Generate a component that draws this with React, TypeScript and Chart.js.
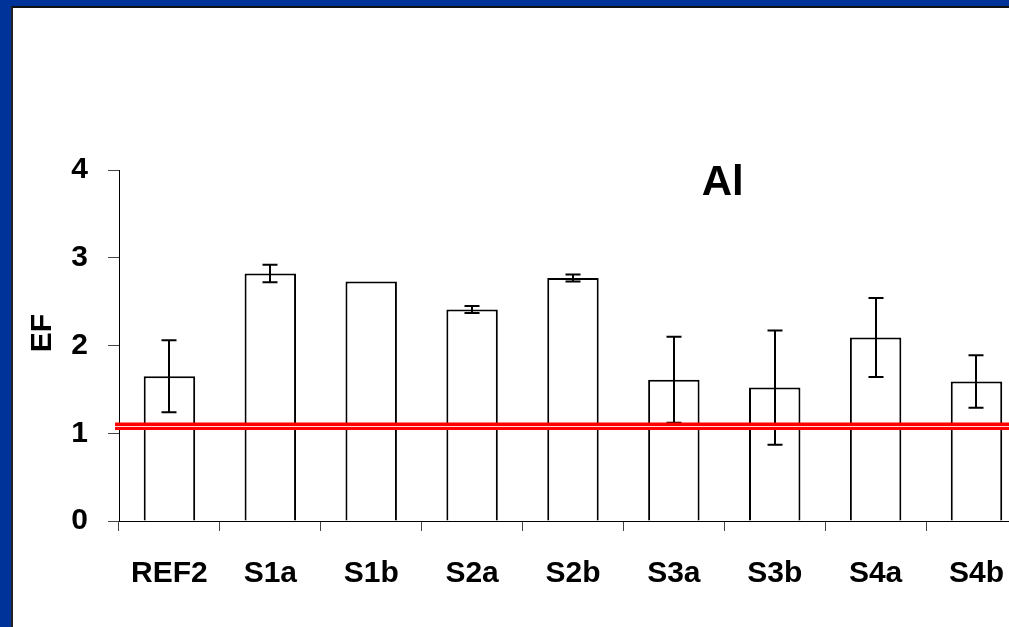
import React, { useEffect, useRef } from 'react';
import { Chart, registerables } from 'chart.js';

Chart.register(...registerables);

const categories = ['REF2', 'S1a', 'S1b', 'S2a', 'S2b', 'S3a', 'S3b', 'S4a', 'S4b'];
const efValues = [1.65, 2.82, 2.73, 2.41, 2.77, 1.61, 1.52, 2.09, 1.59];
const efErrors = [0.41, 0.1, 0, 0.04, 0.04, 0.49, 0.65, 0.45, 0.3];
const yTickValues = [0, 1, 2, 3, 4];
const referenceLevel = 1.08;
const chartTitle = 'Al';
const yAxisTitle = 'EF';

const FONT = "'Liberation Sans', Arial, sans-serif";

const errorBarPlugin = {
  id: 'errorBars',
  afterDatasetsDraw(chart: any) {
    const meta = chart.getDatasetMeta(0);
    const yScale = chart.scales.y;
    const ctx = chart.ctx;
    ctx.save();
    ctx.strokeStyle = '#000';
    ctx.lineWidth = 2;
    meta.data.forEach((bar: any, i: number) => {
      const e = efErrors[i];
      if (!e) return;
      const v = efValues[i];
      const x = Math.round(bar.x);
      const yTop = yScale.getPixelForValue(v + e);
      const yBot = yScale.getPixelForValue(v - e);
      const hw = 7.5;
      ctx.beginPath();
      ctx.moveTo(x, yTop);
      ctx.lineTo(x, yBot);
      ctx.moveTo(x - hw, yTop);
      ctx.lineTo(x + hw, yTop);
      ctx.moveTo(x - hw, yBot);
      ctx.lineTo(x + hw, yBot);
      ctx.stroke();
    });
    ctx.restore();
  },
};

const refLinePlugin = {
  id: 'refLine',
  afterDraw(chart: any) {
    const yScale = chart.scales.y;
    const ctx = chart.ctx;
    const y = Math.round(yScale.getPixelForValue(referenceLevel)) + 0.5;
    const x0 = chart.chartArea.left - 4;
    const x1 = chart.width;
    ctx.save();
    ctx.fillStyle = '#ff0000';
    ctx.fillRect(x0, y - 4, x1 - x0, 7.5);
    ctx.fillStyle = '#ffd8d8';
    ctx.fillRect(x0, y - 0.5, x1 - x0, 1);
    ctx.restore();
  },
};

const textPlugin = {
  id: 'texts',
  afterDraw(chart: any) {
    const ctx = chart.ctx;
    const area = chart.chartArea;
    ctx.save();
    ctx.fillStyle = '#000';
    ctx.font = `bold 42px ${FONT}`;
    ctx.textAlign = 'center';
    ctx.textBaseline = 'middle';
    ctx.fillText(chartTitle, area.left + (area.right - area.left) * 0.665, 183);
    ctx.translate(43, 333);
    ctx.rotate(-Math.PI / 2);
    ctx.font = `bold 30px ${FONT}`;
    ctx.fillText(yAxisTitle, 0, 0);
    ctx.restore();
  },
};

export default function App() {
  const canvasRef = useRef<HTMLCanvasElement | null>(null);

  useEffect(() => {
    const canvas = canvasRef.current;
    if (!canvas) return;
    const chart = new Chart(canvas, {
      type: 'bar',
      data: {
        labels: categories,
        datasets: [
          {
            data: efValues,
            backgroundColor: '#ffffff',
            borderColor: '#000000',
            borderWidth: 2,
            barPercentage: 0.51,
            categoryPercentage: 1.0,
          },
        ],
      },
      options: {
        responsive: false,
        animation: false,
        devicePixelRatio: 1,
        layout: { padding: { top: 170, left: 0, right: 0, bottom: 0 } },
        plugins: {
          legend: { display: false },
          tooltip: { enabled: false },
          title: { display: false },
        },
        scales: {
          x: {
            grid: {
              offset: true,
              drawOnChartArea: false,
              drawTicks: true,
              tickLength: 10,
              color: '#444',
            },
            border: { color: '#000', width: 1 },
            ticks: {
              color: '#000',
              font: { family: FONT, size: 30, weight: 'bold' },
              padding: 25,
              maxRotation: 0,
              autoSkip: false,
            },
            afterFit: (s: any) => {
              s.height = 106;
            },
          },
          y: {
            min: 0,
            max: 4,
            afterBuildTicks: (s: any) => {
              s.ticks = yTickValues.map((v) => ({ value: v }));
            },
            grid: {
              drawOnChartArea: false,
              drawTicks: true,
              tickLength: 11,
              color: '#444',
            },
            border: { color: '#000', width: 1 },
            ticks: {
              color: '#000',
              font: { family: FONT, size: 30, weight: 'bold' },
              padding: 20,
            },
            afterFit: (s: any) => {
              s.width = 119;
            },
          },
        },
      },
      plugins: [errorBarPlugin, refLinePlugin, textPlugin],
    } as any);
    return () => chart.destroy();
  }, []);

  return (
    <div
      style={{
        position: 'fixed',
        left: 0,
        top: 0,
        width: 1009,
        height: 627,
        overflow: 'hidden',
        background: '#003399',
      }}
    >
      <div
        style={{
          position: 'absolute',
          left: 11,
          top: 6,
          right: 0,
          bottom: 0,
          background: '#ffffff',
          borderLeft: '2px solid #222',
          borderTop: '2px solid #111',
        }}
      />
      <canvas
        ref={canvasRef}
        width={1029}
        height={627}
        style={{ position: 'absolute', left: 0, top: 0, width: 1029, height: 627 }}
      />
    </div>
  );
}
